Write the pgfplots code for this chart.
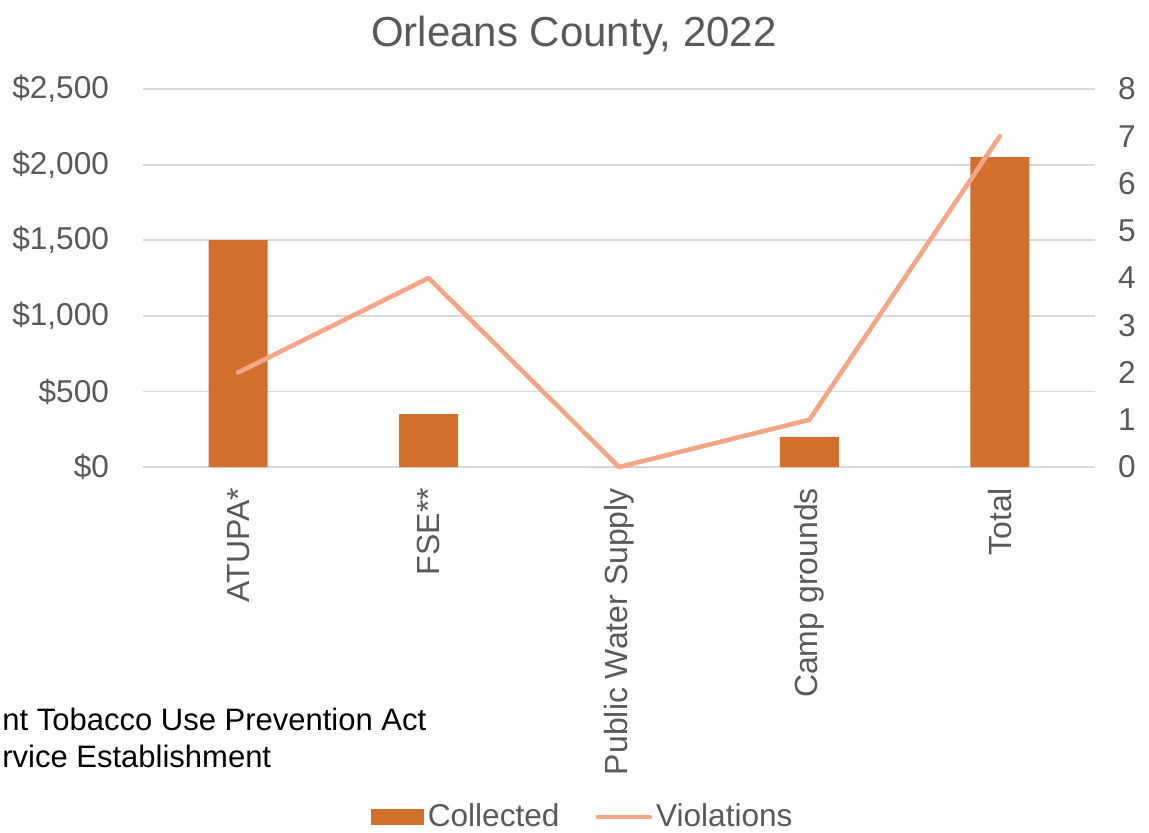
\documentclass[border=0pt]{standalone}
\usepackage{pgfplots}
\pgfplotsset{compat=1.18}
\usepackage{fontspec}
\setmainfont{Liberation Sans}
\definecolor{barc}{RGB}{210,111,44}
\definecolor{linec}{RGB}{242,166,134}
\definecolor{txt}{RGB}{89,89,89}
\definecolor{gridc}{RGB}{217,217,217}
\begin{document}
\begin{tikzpicture}
\useasboundingbox (0,0) rectangle (574.5pt,416pt);
\pgfplotsset{
  base/.style={
    at={(71.5pt,182.5pt)}, anchor=south west,
    scale only axis, width=476pt, height=189pt,
    xmin=-0.5, xmax=4.5,
    axis line style={draw=none},
    major tick length=0pt,
    tick label style={font=\fontsize{15.8}{18.5}\selectfont, text=txt},
    /pgf/number format/assume math mode=true,
  }
}
\begin{axis}[base,
  ymin=0, ymax=2500, ytick={0,500,...,2500},
  yticklabels={\$0,\$500,{\$1,000},{\$1,500},{\$2,000},{\$2,500}},
  yticklabel shift=13.5pt,
  ymajorgrids, xmajorgrids=false,
  major grid style={draw=gridc, line width=0.9pt},
  xtick={0,1,2,3,4},
  xticklabels={ATUPA*,FSE**,Public Water Supply,Camp grounds,Total},
  xticklabel style={rotate=90, anchor=east, font=\fontsize{16}{18.5}\selectfont},
  xticklabel shift=7pt,
  ybar, bar width=0.31,
]
\addplot[fill=barc, draw=none] coordinates {(0,1500) (1,350) (2,0) (3,200) (4,2050)};
\end{axis}
\begin{axis}[base,
  ymin=0, ymax=8, ytick={0,1,...,8},
  axis y line*=right,
  yticklabel shift=8pt,
  xtick=\empty,
  clip=false,
  legend style={draw=none, fill=none, at={(0.463,-0.926)}, anchor=center,
    font=\fontsize{15.8}{18.5}\selectfont, text=txt, legend columns=2,
    /tikz/every even column/.append style={column sep=16pt}},
]
\addlegendimage{legend image code/.code={\fill[barc] (0pt,-3.75pt) rectangle (26pt,3.75pt);}}
\addlegendentry{Collected}
\addplot[linec, line width=2.3pt, line cap=round, line join=round, mark=none,
  legend image code/.code={\draw[linec, line width=2.3pt, line cap=round] (0pt,0pt) -- (26pt,0pt);}]
  coordinates {(0,2) (1,4) (2,0) (3,1) (4,7)};
\addlegendentry{Violations}
\end{axis}
\node[font=\fontsize{21}{25}\selectfont, text=txt] at (287pt,398pt) {Orleans County, 2022};
\node[font=\fontsize{15.5}{18.5}\selectfont, anchor=base west, inner sep=0pt] at (1pt,51pt) {nt Tobacco Use Prevention Act};
\node[font=\fontsize{15.5}{18.5}\selectfont, anchor=base west, inner sep=0pt] at (1pt,32.5pt) {rvice Establishment};
\end{tikzpicture}
\end{document}
